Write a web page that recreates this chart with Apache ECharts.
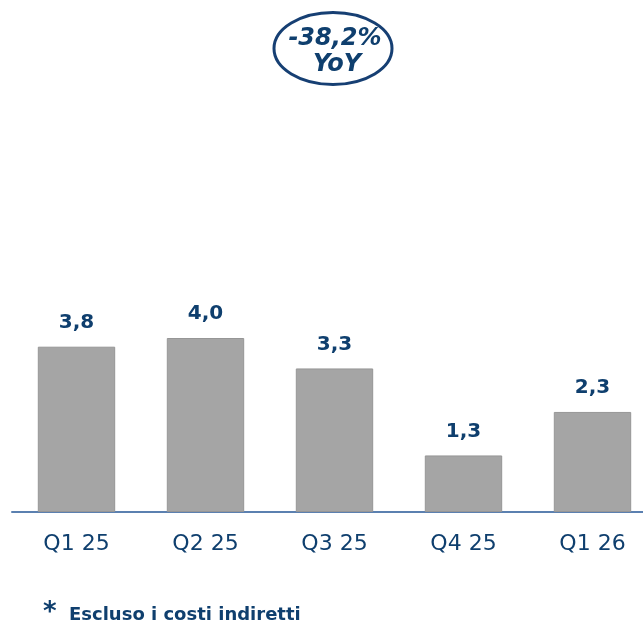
<!DOCTYPE html>
<html>
<head>
<meta charset="utf-8">
<script src="https://cdn.jsdelivr.net/npm/echarts@6/dist/echarts.min.js"></script>
<style>html,body{margin:0;padding:0;background:#fff}#c{width:643px;height:622px}</style>
</head>
<body>
<div id="c"></div>
<script>
const categories = ['Q1 25', 'Q2 25', 'Q3 25', 'Q4 25', 'Q1 26'];
const values = [3.8, 4.0, 3.3, 1.3, 2.3];
const badgeLines = ['-38,2%', 'YoY'];
const footnote = 'Escluso i costi indiretti';

const NAVY = '#0f3f6e';
const FONT = 'DejaVu Sans';
const chart = echarts.init(document.getElementById('c'), null, {renderer: 'canvas'});
chart.setOption({
  animation: false,
  backgroundColor: '#fff',
  grid: {left: 12, width: 645, top: 77, bottom: 110, containLabel: false, outerBoundsMode: 'none'},
  xAxis: {
    type: 'category',
    data: categories,
    axisLine: {show: true, lineStyle: {color: '#5b80b0', width: 2}},
    axisTick: {show: false},
    axisLabel: {color: NAVY, fontFamily: FONT, fontSize: 22, margin: 21}
  },
  yAxis: {type: 'value', min: 0, max: 10, show: false, splitLine: {show: false}},
  series: [{
    type: 'bar',
    data: values,
    barWidth: '60%',
    itemStyle: {color: '#a5a5a5', borderColor: '#969696', borderWidth: 1},
    label: {
      show: true, position: 'top', distance: 14,
      color: NAVY, fontFamily: FONT, fontWeight: 'bold', fontSize: 20,
      formatter: p => p.value.toFixed(1).replace('.', ',')
    }
  }],
  graphic: [
    {type: 'ellipse', shape: {cx: 333, cy: 48.5, rx: 59, ry: 36},
     style: {fill: '#fff', stroke: '#163f73', lineWidth: 3}},
    {type: 'text', x: 335, y: 39, style: {text: badgeLines[0], fill: NAVY, font: 'italic bold 24px "DejaVu Sans"', textAlign: 'center', textVerticalAlign: 'middle'}},
    {type: 'text', x: 337, y: 65, style: {text: badgeLines[1], fill: NAVY, font: 'italic bold 24px "DejaVu Sans"', textAlign: 'center', textVerticalAlign: 'middle'}},
    {type: 'text', x: 43, y: 613, style: {text: '*', fill: NAVY, font: 'bold 26px "DejaVu Sans"', textAlign: 'left', textVerticalAlign: 'middle'}},
    {type: 'text', x: 69, y: 615, style: {text: footnote, fill: NAVY, font: 'bold 18px "DejaVu Sans"', textAlign: 'left', textVerticalAlign: 'middle'}}
  ]
});
</script>
</body>
</html>
